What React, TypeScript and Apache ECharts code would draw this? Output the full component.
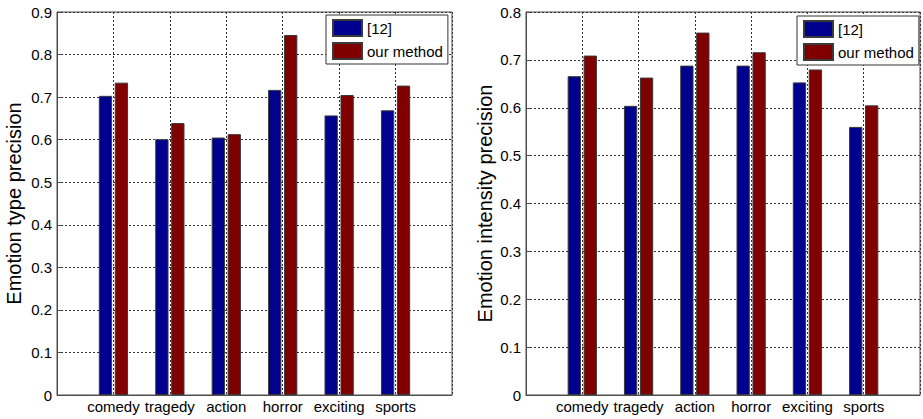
import React, { useEffect, useRef } from "react";
import * as echarts from "echarts";

const categories = ["comedy", "tragedy", "action", "horror", "exciting", "sports"];
const seriesNames = ["[12]", "our method"];
const typeRef12 = [0.703, 0.601, 0.605, 0.717, 0.657, 0.669];
const typeOurs = [0.734, 0.639, 0.613, 0.846, 0.705, 0.727];
const intensityRef12 = [0.666, 0.604, 0.688, 0.688, 0.653, 0.56];
const intensityOurs = [0.709, 0.663, 0.757, 0.716, 0.68, 0.605];
const typeTicks = { min: 0, max: 0.9, interval: 0.1 };
const intensityTicks = { min: 0, max: 0.8, interval: 0.1 };
const yTitles = ["Emotion type precision", "Emotion intensity precision"];

const FONT = "'Liberation Sans', Arial, sans-serif";
const BLUE = "#00008f";
const RED = "#800000";
const EDGE = "#3a3a3a";
const AXIS = "#4d4d4d";

export default function App() {
  const ref = useRef<HTMLDivElement>(null);
  useEffect(() => {
    if (!ref.current) return;
    const chart = echarts.init(ref.current, undefined, { renderer: "svg" });

    const grids = [
      { left: 57, top: 12, width: 395, height: 383 },
      { left: 526, top: 12, width: 396, height: 383 },
    ];
    const yRanges = [typeTicks, intensityTicks];
    const nameGaps = [33, 31];

    const xAxes = grids.map((_, i) => ({
      type: "value",
      gridIndex: i,
      min: 0,
      max: 7,
      interval: 1,
      axisLine: { show: true, lineStyle: { color: AXIS, width: 1 } },
      axisTick: { show: false },
      axisLabel: {
        color: "#000",
        fontSize: 15,
        fontFamily: FONT,
        margin: 4,
        formatter: (v: number) => categories[Math.round(v) - 1] ?? "",
      },
      splitLine: { show: true, lineStyle: { color: "#333", type: [2, 2], width: 1 } },
    }));

    const yAxes = grids.map((_, i) => ({
      type: "value",
      gridIndex: i,
      min: yRanges[i].min,
      max: yRanges[i].max,
      interval: yRanges[i].interval,
      name: yTitles[i],
      nameLocation: "middle",
      nameGap: nameGaps[i],
      nameTextStyle: { color: "#000", fontSize: 20, fontFamily: FONT },
      axisLine: { show: true, lineStyle: { color: AXIS, width: 1 } },
      axisTick: { show: true, inside: true, length: 4, lineStyle: { color: AXIS } },
      axisLabel: {
        color: "#000",
        fontSize: 15,
        fontFamily: FONT,
        margin: 5,
        formatter: (v: number) => String(Math.round(v * 10) / 10),
      },
      splitLine: { show: true, lineStyle: { color: "#333", type: [2, 2], width: 1 } },
    }));

    const dataSets = [
      [typeRef12, typeOurs],
      [intensityRef12, intensityOurs],
    ];
    const colors = [BLUE, RED];
    const series: any[] = [];
    dataSets.forEach((sets, gi) => {
      sets.forEach((vals, si) => {
        series.push({
          type: "bar",
          name: seriesNames[si],
          xAxisIndex: gi,
          yAxisIndex: gi,
          barWidth: 13.3,
          barGap: "20%",
          data: vals.map((v, k) => [k + 1, v]),
          itemStyle: { color: colors[si], borderColor: EDGE, borderWidth: 1 },
        });
      });
    });

    const legendPos = [
      { left: 326, top: 15 },
      { left: 797, top: 16 },
    ];
    const legends = legendPos.map((p) => ({
      ...p,
      orient: "vertical",
      data: seriesNames,
      selectedMode: false,
      icon: "rect",
      itemWidth: 29,
      itemHeight: 16,
      itemGap: 5,
      padding: [4, 5, 4, 6],
      borderColor: "#333",
      borderWidth: 1,
      backgroundColor: "#fff",
      textStyle: { color: "#000", fontSize: 15, fontFamily: FONT, lineHeight: 16 },
    }));

    chart.setOption({
      animation: false,
      backgroundColor: "#fff",
      grid: grids.map((g) => ({ ...g, show: true, borderColor: AXIS, borderWidth: 1, backgroundColor: "transparent" })),
      xAxis: xAxes,
      yAxis: yAxes,
      legend: legends,
      series,
    });
    return () => chart.dispose();
  }, []);

  return (
    <div
      ref={ref}
      style={{ position: "absolute", left: 0, top: 0, width: 923, height: 419, background: "#fff" }}
    />
  );
}
